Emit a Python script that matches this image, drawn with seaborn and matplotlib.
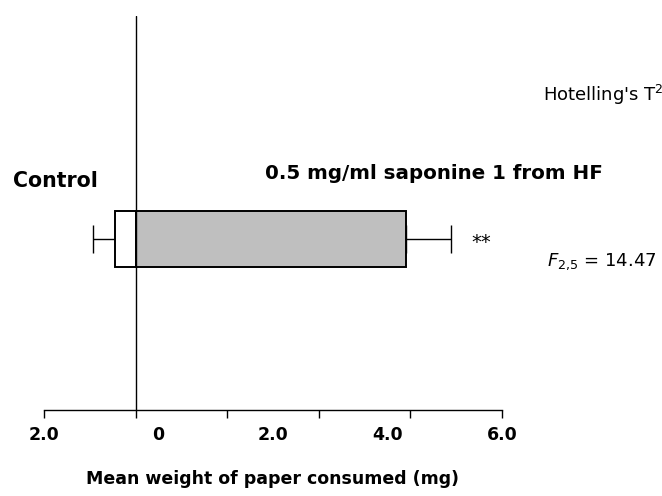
import matplotlib
matplotlib.use("Agg")
import matplotlib.pyplot as plt
import seaborn as sns
import pandas as pd
import numpy as np

# ---- data ----
groups = ["Control", "0.5 mg/ml saponine 1 from HF"]
means = [-0.36, 4.72]          # bar length measured from the zero line
errors = [0.38, 0.79]          # one-sided error bars
bar_colors = ["#ffffff", "#bfbfbf"]
tick_values = [-2, 0, 2, 4, 6]
tick_labels = ["2.0", "0", "2.0", "4.0", "6.0"]
significance = "**"
stat_name = "Hotelling's T$^{2}$"
stat_value = "$F_{2{,}5}$ = 14.47"
x_label = "Mean weight of paper consumed (mg)"

ZERO = -0.4   # position of the zero (baseline) line on the drawn axis

sns.set_style("white")
plt.rcParams["font.family"] = ["DejaVu Sans"]
plt.rcParams["mathtext.fontset"] = "dejavusans"
plt.rcParams["text.color"] = "black"
plt.rcParams["axes.labelcolor"] = "black"
plt.rcParams["xtick.color"] = "black"

W, H = 662, 496
fig = plt.figure(figsize=(W / 100, H / 100), dpi=100)
ax = fig.add_axes([44 / W, 86 / H, (502 - 44) / W, (410 - 16) / H])

df = pd.DataFrame({"row": ["r", "r"], "group": groups, "value": means})
sns.barplot(data=df, x="value", y="row", hue="group", orient="h",
            palette=dict(zip(groups, bar_colors)), dodge=False,
            errorbar=None, width=0.8, edgecolor="black", linewidth=1.4,
            left=ZERO, legend=False, ax=ax, zorder=2)

for v, e in zip(means, errors):
    end = ZERO + v
    xerr = [[e], [0]] if v < 0 else [[0], [e]]
    ax.errorbar(end, 0, xerr=xerr, fmt="none", ecolor="black",
                elinewidth=1.0, capsize=10, capthick=1.0, zorder=1)

ax.axvline(ZERO, color="black", lw=1.0, zorder=3)

ax.set_xlim(-2, 6)
ax.set_ylim(2.443, -3.186)
ax.set_yticks([])
ax.set_ylabel("")
sns.despine(ax=ax, left=True)
ax.spines["bottom"].set_color("black")
ax.spines["bottom"].set_linewidth(1.0)

ax.xaxis.remove_overlapping_locs = False
ax.set_xticks(np.linspace(-2, 6, 6), labels=[""] * 6)
ax.set_xticks(tick_values, labels=tick_labels, minor=True)
ax.tick_params(axis="x", which="major", bottom=True, direction="out",
               length=5.8, width=1.0, color="black")
ax.tick_params(axis="x", which="minor", bottom=True, length=0, pad=11.5,
               labelsize=12.5, labelcolor="black")
for t in ax.get_xticklabels(minor=True):
    t.set_fontweight("bold")

ax.set_xlabel(x_label, fontsize=12.5, fontweight="bold", labelpad=19,
              color="black")


def px(x, y):
    return x / W, 1 - y / H


fig.text(*px(13, 187), groups[0], fontsize=14.8, fontweight="bold",
         ha="left", va="baseline")
fig.text(*px(265, 179), groups[1], fontsize=14.3, fontweight="bold",
         ha="left", va="baseline")
fig.text(*px(481, 248), significance, fontsize=14, ha="center",
         va="baseline")
fig.text(*px(543, 101), stat_name, fontsize=13, ha="left", va="baseline")
fig.text(*px(547, 266), stat_value, fontsize=13, ha="left", va="baseline")

fig.savefig("out.png", dpi=100, facecolor="white")
